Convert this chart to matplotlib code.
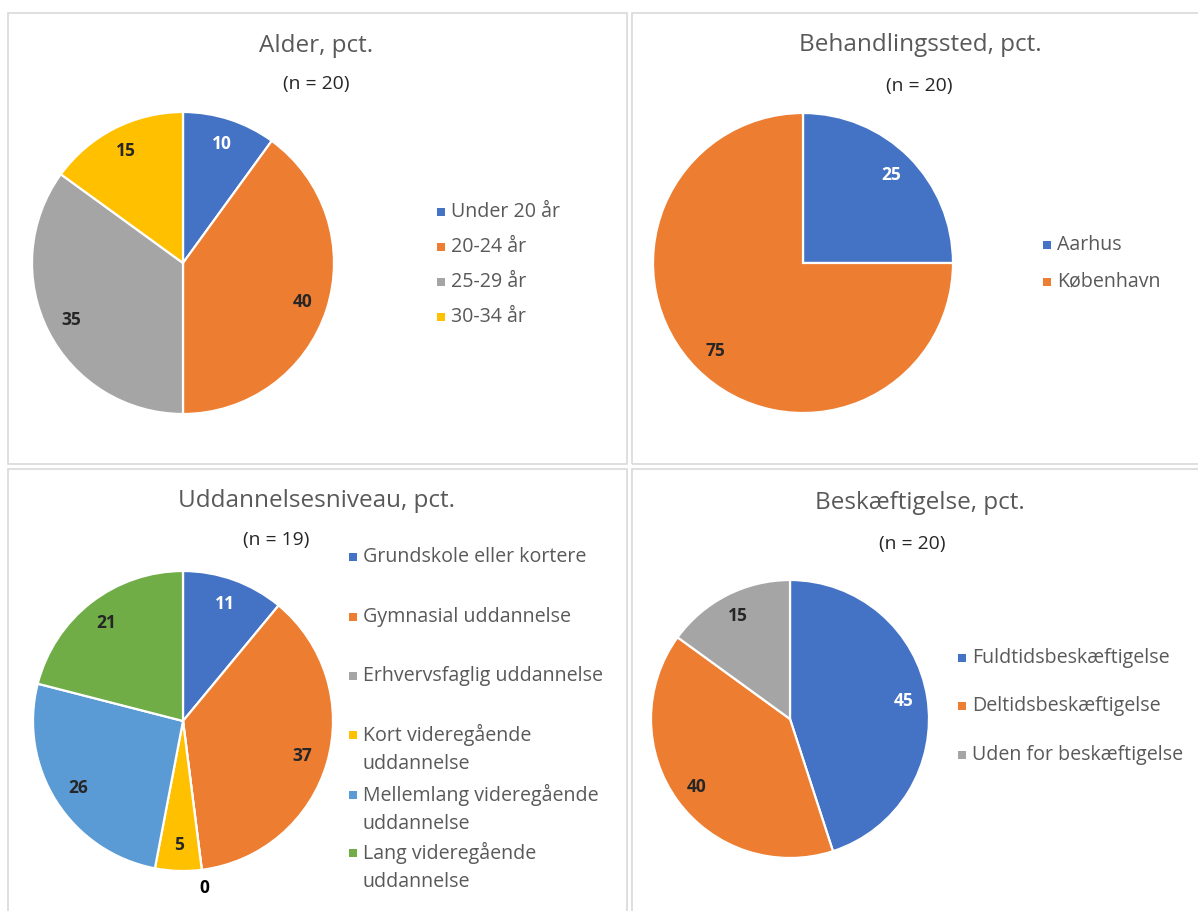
import numpy as np
import matplotlib
matplotlib.use("Agg")
import matplotlib.pyplot as plt
from matplotlib.patches import Rectangle

plt.rcParams["font.family"] = ["Open Sans", "DejaVu Sans"]

W, H = 1198, 911

# survey data, percent
alder_labels = ["Under 20 år", "20-24 år", "25-29 år", "30-34 år"]
alder_values = [10, 40, 35, 15]

sted_labels = ["Aarhus", "København"]
sted_values = [25, 75]

udd_labels = ["Grundskole eller kortere", "Gymnasial uddannelse",
              "Erhvervsfaglig uddannelse", "Kort videregående\nuddannelse",
              "Mellemlang videregående\nuddannelse", "Lang videregående\nuddannelse"]
udd_values = [11, 37, 0, 5, 26, 21]

besk_labels = ["Fuldtidsbeskæftigelse", "Deltidsbeskæftigelse", "Uden for beskæftigelse"]
besk_values = [45, 40, 15]

PALETTE = ["#4472C4", "#ED7D31", "#A5A5A5", "#FFC000", "#5B9BD5", "#70AD47"]
GREY_TXT = "#595959"


def fx(x):
    return x / W


def fy(y):
    return 1 - y / H


def panel(fig, x0, y0, x1, y1):
    fig.patches.append(Rectangle((fx(x0), fy(y1)), fx(x1 - x0), (y1 - y0) / H,
                                 transform=fig.transFigure, fill=False,
                                 edgecolor="#D9D9D9", linewidth=1.2))


def pie(fig, cx, cy, r, values):
    ax = fig.add_axes([fx(cx - r), fy(cy + r), 2 * r / W, 2 * r / H])
    wedges, _ = ax.pie(values, colors=PALETTE[:len(values)], startangle=90,
                       counterclock=False, radius=1,
                       wedgeprops=dict(edgecolor="white", linewidth=1.6))
    ax.set_xlim(-1, 1)
    ax.set_ylim(-1, 1)
    ax.set_aspect("equal")
    ax.axis("off")
    blue = matplotlib.colors.to_rgb(PALETTE[0])
    for w, v in zip(wedges, values):
        mid = np.deg2rad((w.theta1 + w.theta2) / 2)
        d = 1.12 if v == 0 else 0.83
        if v == 0:
            col = "black"
        elif tuple(w.get_facecolor()[:3]) == blue:
            col = "white"
        else:
            col = "#262626"
        ax.text(d * np.cos(mid), d * np.sin(mid), str(v), ha="center", va="center",
                fontsize=12.5, fontweight="bold", color=col)
    return ax


def legend(fig, x, rows, labels, line_gap=29):
    for i, (y, lab) in enumerate(zip(rows, labels)):
        fig.patches.append(Rectangle((fx(x - 4), fy(y + 4)), 8 / W, 8 / H,
                                     transform=fig.transFigure,
                                     facecolor=PALETTE[i], edgecolor="none"))
        for j, line in enumerate(lab.split("\n")):
            fig.text(fx(x + 10), fy(y + j * line_gap), line, ha="left", va="center",
                     fontsize=14.1, color=GREY_TXT)


def titles(fig, x, y, title, sub, sx, sy):
    fig.text(fx(x), fy(y), title, ha="center", va="center", fontsize=17.5, color=GREY_TXT)
    fig.text(fx(sx), fy(sy), sub, ha="center", va="center", fontsize=13.9, color="#262626")


fig = plt.figure(figsize=(W / 100, H / 100), dpi=100)

panel(fig, 8, 13, 627, 464)
panel(fig, 632, 13, 1215, 464)
panel(fig, 8, 469, 627, 930)
panel(fig, 632, 469, 1215, 930)

# Alder
titles(fig, 316, 46, "Alder, pct.", "(n = 20)", 316, 84)
pie(fig, 183, 263, 151, alder_values)
legend(fig, 441, [212, 247, 282, 317], alder_labels)

# Behandlingssted
titles(fig, 920, 45, "Behandlingssted, pct.", "(n = 20)", 919, 86)
pie(fig, 803, 263, 150, sted_values)
legend(fig, 1047, [245, 282], sted_labels)

# Uddannelsesniveau
titles(fig, 316, 501, "Uddannelsesniveau, pct.", "(n = 19)", 276, 540)
pie(fig, 183, 721, 150, udd_values)
legend(fig, 353, [557, 617, 676, 735, 795, 853], udd_labels)

# Beskæftigelse
titles(fig, 920, 503, "Beskæftigelse, pct.", "(n = 20)", 912, 544)
pie(fig, 790, 719, 139, besk_values)
legend(fig, 962, [658, 706, 755], besk_labels)

fig.savefig("out.png", dpi=100, facecolor="white")
